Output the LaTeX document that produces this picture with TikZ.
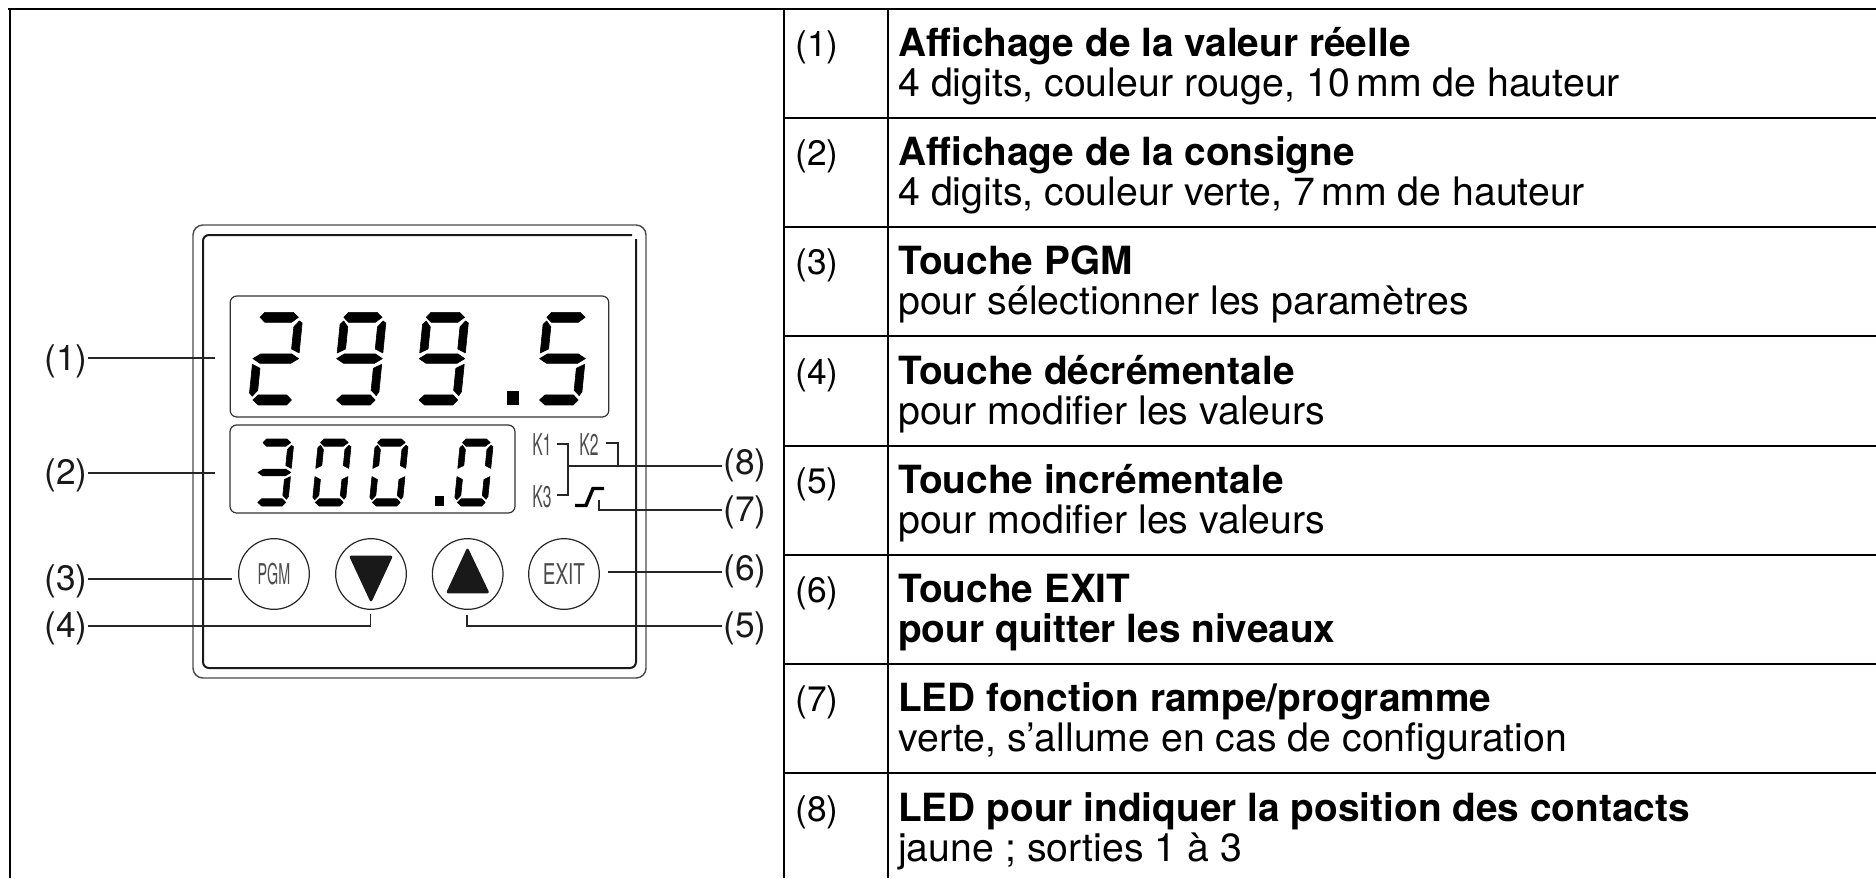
\documentclass[tikz,border=0pt]{standalone}
\usepackage{fontspec}
\setmainfont{TeX Gyre Heros}
\usetikzlibrary{calc}
\newcommand{\comma}{,}
\newcommand{\boldsize}{\fontsize{29.1pt}{34pt}\selectfont}
\newcommand{\tblsize}{\fontsize{29.45pt}{34pt}\selectfont}
\newcommand{\numsize}{\fontsize{26.5pt}{32pt}\selectfont}
\newcommand{\lblsize}{\fontsize{26.5pt}{30pt}\selectfont}
\tikzset{seg/.style={fill=black,draw=black,line width=0.45pt,line join=round}}
% seven segments, local units: zoom pixels, W=137, H=278
\newcommand{\sA}{\path[seg] (9,15)--(22,0)--(107,0)--(124,15)--(105,30)--(25,30)--cycle;}
\newcommand{\sB}{\path[seg] (128,26)--(137,32)--(137,122)--(113,110)--(113,44)--cycle;}
\newcommand{\sC}{\path[seg] (113,168)--(137,156)--(137,238)--(130,250)--(113,234)--cycle;}
\newcommand{\sD}{\path[seg] (12,263)--(27,248)--(112,248)--(128,263)--(115,278)--(30,278)--cycle;}
\newcommand{\sE}{\path[seg] (0,156)--(24,168)--(24,234)--(9,252)--(0,242)--cycle;}
\newcommand{\sF}{\path[seg] (0,36)--(10,26)--(24,44)--(24,110)--(0,122)--cycle;}
\newcommand{\sG}{\path[seg] (0,139)--(22,125)--(115,125)--(137,139)--(115,153)--(22,153)--cycle;}
\newcommand{\digitat}[4]{\begin{scope}[shift={(#1+27.8*#3,#2)},x={(#3*0.75pt,0pt)},y={(-#3*0.75pt*0.1,-#3*0.75pt)}]#4\end{scope}}
\tikzset{
  rule/.style={line width=1.5pt,draw=black},
  cellnum/.style={anchor=base west,inner sep=0pt,font=\numsize},
  cellbold/.style={anchor=base west,inner sep=0pt,font=\boldsize\bfseries},
  celltext/.style={anchor=base west,inner sep=0pt,font=\tblsize},
  callout/.style={anchor=center,inner sep=0pt,font=\lblsize,text=black!90},
  leader/.style={line width=1.35pt,draw=black!85,line join=miter},
  bezel/.style={line width=1.1pt,draw=black!70,rounded corners=7.5pt},
  inner frame/.style={line width=1.5pt,draw=black!90},
  lcd/.style={line width=0.9pt,draw=black!80,rounded corners=5pt},
  keycap/.style={circle,draw=black!85,line width=0.9pt,minimum size=53pt,inner sep=0pt},
  thinlbl/.style={inner sep=0pt,text=black!70,font=\fontsize{21.5pt}{22pt}\selectfont},
  klbl/.style={inner sep=0pt,text=black!70,font=\fontsize{22.5pt}{23pt}\selectfont},
}
\begin{document}
\begin{tikzpicture}[x=0.75pt,y=-0.75pt]
\useasboundingbox (0,0) rectangle (1876,878);
% table
\draw[rule] (8,9) -- (1876,9);
\draw[rule] (10,9) -- (10,878);
\draw[rule] (784,9) -- (784,878);
\draw[rule] (888,9) -- (888,878);
\foreach \r in {118,227,336,446,555,664,773} \draw[rule] (784,\r) -- (1876,\r);
\foreach \n/\yb/\ta/\tb in {
 1/56/Affichage de la valeur réelle/4 digits\comma\ couleur rouge\comma\ 10\,mm de hauteur,
 2/165/Affichage de la consigne/4 digits\comma\ couleur verte\comma\ 7\,mm de hauteur,
 3/274/Touche PGM/pour sélectionner les paramètres,
 4/384/Touche décrémentale/pour modifier les valeurs,
 5/493/Touche incrémentale/pour modifier les valeurs,
 7/711/LED fonction rampe\slash programme/verte\comma\ s’allume en cas de configuration,
 8/821/LED pour indiquer la position des contacts/jaune ; sorties 1 à 3}{
  \node[cellnum] (n\n) at (795,\yb) {(\n)};
  \node[cellbold] (a\n) at (898,\yb) {\ta};
  \node[celltext] (b\n) at (898,\yb+40) {\tb};
}
\node[cellnum] (n6) at (795,602) {(6)};
\node[cellbold] (a6) at (898,602) {Touche EXIT};
\node[cellbold] (b6) at (898,642) {pour quitter les niveaux};
% housing
\draw[bezel] (193,225) rectangle (646,678);
\draw[inner frame,line cap=butt] (632,235) -- (209,235) to[out=180,in=90] (203,241) -- (203,662) to[out=-90,in=180] (209,668) -- (630,668) to[out=0,in=-90] (636,662) -- (636,239);
% displays
\node[lcd,draw,minimum width=284pt,minimum height=90.75pt,inner sep=0pt] (disp1) at (419.5,356.5) {};
\node[lcd,draw,minimum width=213.75pt,minimum height=66pt,inner sep=0pt] (disp2) at (372.5,469) {};
% large digits: scale 1/3
\digitat{248.3}{312.3}{0.3333}{\sA\sB\sG\sE\sD}
\digitat{332}{312.3}{0.3333}{\sA\sB\sF\sG\sC\sD}
\digitat{414.5}{312.3}{0.3333}{\sA\sB\sF\sG\sC\sD}
\fill (507,391) rectangle (519,405);
\digitat{535}{312.3}{0.3333}{\sA\sF\sG\sC\sD}
% small digits
\digitat{254.5}{439}{0.2411}{\sA\sB\sG\sC\sD}
\digitat{312}{439}{0.2411}{\sA\sB\sC\sD\sE\sF}
\digitat{369}{439}{0.2411}{\sA\sB\sC\sD\sE\sF}
\fill (435,496) rectangle (444,506);
\digitat{454}{439}{0.2411}{\sA\sB\sC\sD\sE\sF}
% keys
\node[keycap] (pgm) at (274,574) {};
\node[keycap] (down) at (371,574) {};
\node[keycap] (up) at (467.7,574) {};
\node[keycap] (exit) at (564,574) {};
\node[thinlbl] (pgmt) at (274,574) {\scalebox{0.5}[1]{PGM}};
\node[thinlbl] (exitt) at (564,574) {\scalebox{0.66}[1]{EXIT}};
\fill[black!90,draw=black!90,line width=2pt,line join=round] (351,557) -- (391,557) -- (371,600) -- cycle;
\fill[black!90,draw=black!90,line width=2pt,line join=round] (448,592) -- (487.5,592) -- (467.5,550) -- cycle;
% K labels
\node[klbl] (k1) at (542,445) {\scalebox{0.52}[1]{K1}};
\node[klbl] (k2) at (589,445) {\scalebox{0.52}[1]{K2}};
\node[klbl] (k3) at (542,497) {\scalebox{0.52}[1]{K3}};
% callouts
\node[callout] (c1) at (66,361) {(1)};
\node[callout] (c2) at (66,475.5) {(2)};
\node[callout] (c3) at (66,581) {(3)};
\node[callout] (c4) at (66,628) {(4)};
\node[callout] (c5) at (745,628) {(5)};
\node[callout] (c6) at (745,571) {(6)};
\node[callout] (c7) at (745,512) {(7)};
\node[callout] (c8) at (745,465) {(8)};
\coordinate (e1) at (215,358);
\coordinate (e2) at (215,473);
\coordinate (e3) at (232,579);
\coordinate (e4) at (370.5,614);
\coordinate (e5) at (467,615);
\coordinate (e6) at (608,572);
\coordinate (e7) at (599,500);
\coordinate (br) at (568,466);
\coordinate (k1e) at (557,444);
\coordinate (k3e) at (557,495);
\coordinate (k2e) at (606,443);
\coordinate (k2j) at (618,466);
\coordinate (s1) at (88,358);
\coordinate (s2) at (88,473);
\coordinate (s3) at (88,579);
\coordinate (s4) at (88,626);
\coordinate (s5) at (722,626);
\coordinate (s6) at (722,572);
\coordinate (s7) at (722,510);
\coordinate (s8) at (722,466);
\draw[leader] (s1) -- (e1);
\draw[leader] (s2) -- (e2);
\draw[leader] (s3) -- (e3);
\draw[leader] (s4) -| (e4);
\draw[leader] (s5) -| (e5);
\draw[leader] (s6) -- (e6);
\draw[leader] (s7) -| (e7);
\draw[leader] (s8) -- (br);
\draw[leader] (k1e) -| (k3e -| br) -- (k3e);
\draw[leader] (k2e) -| (k2j);
% ramp LED
\draw[line width=2.6pt,line join=miter] (575,505.5) -- (586,505.5) -- (593,488.5) -- (604,488.5);
\end{tikzpicture}
\end{document}
